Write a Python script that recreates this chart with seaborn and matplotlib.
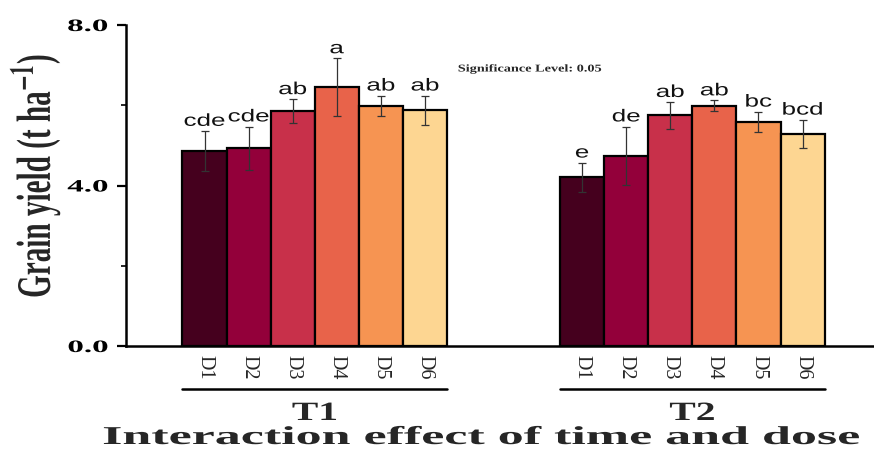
import matplotlib
matplotlib.use("Agg")
import matplotlib.pyplot as plt
import matplotlib.transforms as mtransforms
from matplotlib.patheffects import AbstractPathEffect
import numpy as np
import pandas as pd
import seaborn as sns

# ---------------- data ----------------
times = ["T1", "T2"]
doses = ["D1", "D2", "D3", "D4", "D5", "D6"]
t1_yield = [4.86, 4.93, 5.86, 6.45, 5.99, 5.87]
t2_yield = [4.20, 4.74, 5.75, 5.99, 5.59, 5.29]
t1_err = [0.50, 0.54, 0.29, 0.72, 0.25, 0.37]
t2_err = [0.37, 0.73, 0.33, 0.13, 0.25, 0.35]
t1_letters = ["cde", "cde", "ab", "a", "ab", "ab"]
t2_letters = ["e", "de", "ab", "ab", "bc", "bcd"]
y_ticks = [0.0, 4.0, 8.0]
y_tick_labels = ["0.0", "4.0", "8.0"]
colors = ["#45001e", "#93003a", "#c8304a", "#e8634a", "#f69452", "#fdd692"]


class Stretch(AbstractPathEffect):
    """Draw text stretched horizontally (display x) about an anchor."""

    def __init__(self, sx=1.0, anchor="center", target_w=None):
        super().__init__()
        self.sx = sx
        self.anchor = anchor
        self.target_w = target_w

    def draw_path(self, renderer, gc, tpath, affine, rgbFace=None):
        ext = tpath.get_extents(affine)
        sx = self.sx
        if self.target_w is not None and ext.width > 0:
            sx = self.target_w / ext.width
        if self.anchor == "left":
            a = ext.x0
        elif self.anchor == "right":
            a = ext.x1
        else:
            a = 0.5 * (ext.x0 + ext.x1)
        new = affine + mtransforms.Affine2D().translate(-a, 0).scale(sx, 1).translate(a, 0)
        renderer.draw_path(gc, tpath, new, rgbFace)


# ---------------- layout ----------------
group_gap = 8.56  # offset of second group (in bar widths)
rows = []
for gi, (t, vals, errs, lets) in enumerate(
        [("T1", t1_yield, t1_err, t1_letters), ("T2", t2_yield, t2_err, t2_letters)]):
    for di, d in enumerate(doses):
        rows.append(dict(time=t, dose=d, pos=di + gi * group_gap,
                         value=vals[di], err=errs[di], letter=lets[di]))
df = pd.DataFrame(rows)

sns.set_theme(style="white")
plt.rcParams["font.family"] = ["Liberation Serif", "DejaVu Serif"]
plt.rcParams["mathtext.fontset"] = "stix"

fig = plt.figure(figsize=(8.74, 4.51), dpi=100)
ax = fig.add_axes([126 / 874, 1 - 346 / 451, 748 / 874, 321 / 451])

sns.barplot(data=df, x="pos", y="value", hue="dose", hue_order=doses,
            palette=colors, saturation=1, native_scale=True, dodge=False, width=1.0,
            edgecolor="black", linewidth=1.6, errorbar=None, legend=False, ax=ax)

ax.errorbar(df["pos"], df["value"], yerr=df["err"], fmt="none",
            ecolor="#333333", elinewidth=0.9, capsize=3, capthick=0.9, zorder=5)

# significance letters
for _, r in df.iterrows():
    trans = mtransforms.offset_copy(ax.transData, fig=fig, x=0, y=1.5, units="points")
    ax.text(r["pos"], r["value"] + r["err"], r["letter"], ha="center", va="bottom",
            fontsize=12.5, family=["Liberation Sans", "DejaVu Sans"], transform=trans,
            color="#111111", path_effects=[Stretch(1.5)])

ax.set_xlim(-1.78, 15.18)
ax.set_ylim(0, 8.0)

# spines
for s in ["top", "right"]:
    ax.spines[s].set_visible(False)
for s in ["left", "bottom"]:
    ax.spines[s].set_color("black")
    ax.spines[s].set_linewidth(1.8)

# y ticks
ax.set_yticks(y_ticks)
ax.set_yticklabels(y_tick_labels, fontsize=12.5, fontweight="bold")
ax.set_yticks([2.0, 6.0], minor=True)
ax.tick_params(axis="y", which="major", direction="out", length=6.5, width=1.6,
               left=True, pad=6.5, colors="black")
ax.tick_params(axis="y", which="minor", direction="out", length=3.3, width=1.4,
               left=True)

# x tick labels
ax.set_xticks(df["pos"])
ax.set_xticklabels(df["dose"], rotation=270, fontsize=14.5)
ax.tick_params(axis="x", which="both", length=0, pad=6.5, bottom=False)
ax.set_xlabel("")

ax.set_ylabel("Grain yield (t ha$^{\\mathbf{-1}}$)", fontsize=21, fontweight="bold",
              va="center", path_effects=[Stretch(1.65)])
ax.yaxis.set_label_coords(-0.121, 0.53)

# group brackets and labels
blend = mtransforms.blended_transform_factory(ax.transData, ax.transAxes)
for t in times:
    sub = df[df["time"] == t]
    x0, x1 = sub["pos"].min() - 0.5, sub["pos"].max() + 0.5
    ax.plot([x0, x1], [-0.134, -0.134], color="black", lw=1.8,
            transform=blend, clip_on=False)
    ax.text((x0 + x1) / 2, (346 - 420) / 321, t, transform=blend, ha="center",
            va="baseline", fontsize=19, fontweight="bold", path_effects=[Stretch(1.5)])

fig.text(482 / 874, 1 - 444 / 451, "Interaction effect of time and dose",
         ha="center", va="baseline", fontsize=18.5, fontweight="bold",
         path_effects=[Stretch(target_w=755)])

fig.text(458 / 874, 1 - 69 / 451, "Significance Level: 0.05", ha="left", va="center",
         fontsize=7.5, fontweight="bold", path_effects=[Stretch(1.37, "left")])

for lbl in ax.get_yticklabels():
    lbl.set_path_effects([Stretch(1.9, "right")])

fig.savefig("out.png", dpi=100, facecolor="white")
